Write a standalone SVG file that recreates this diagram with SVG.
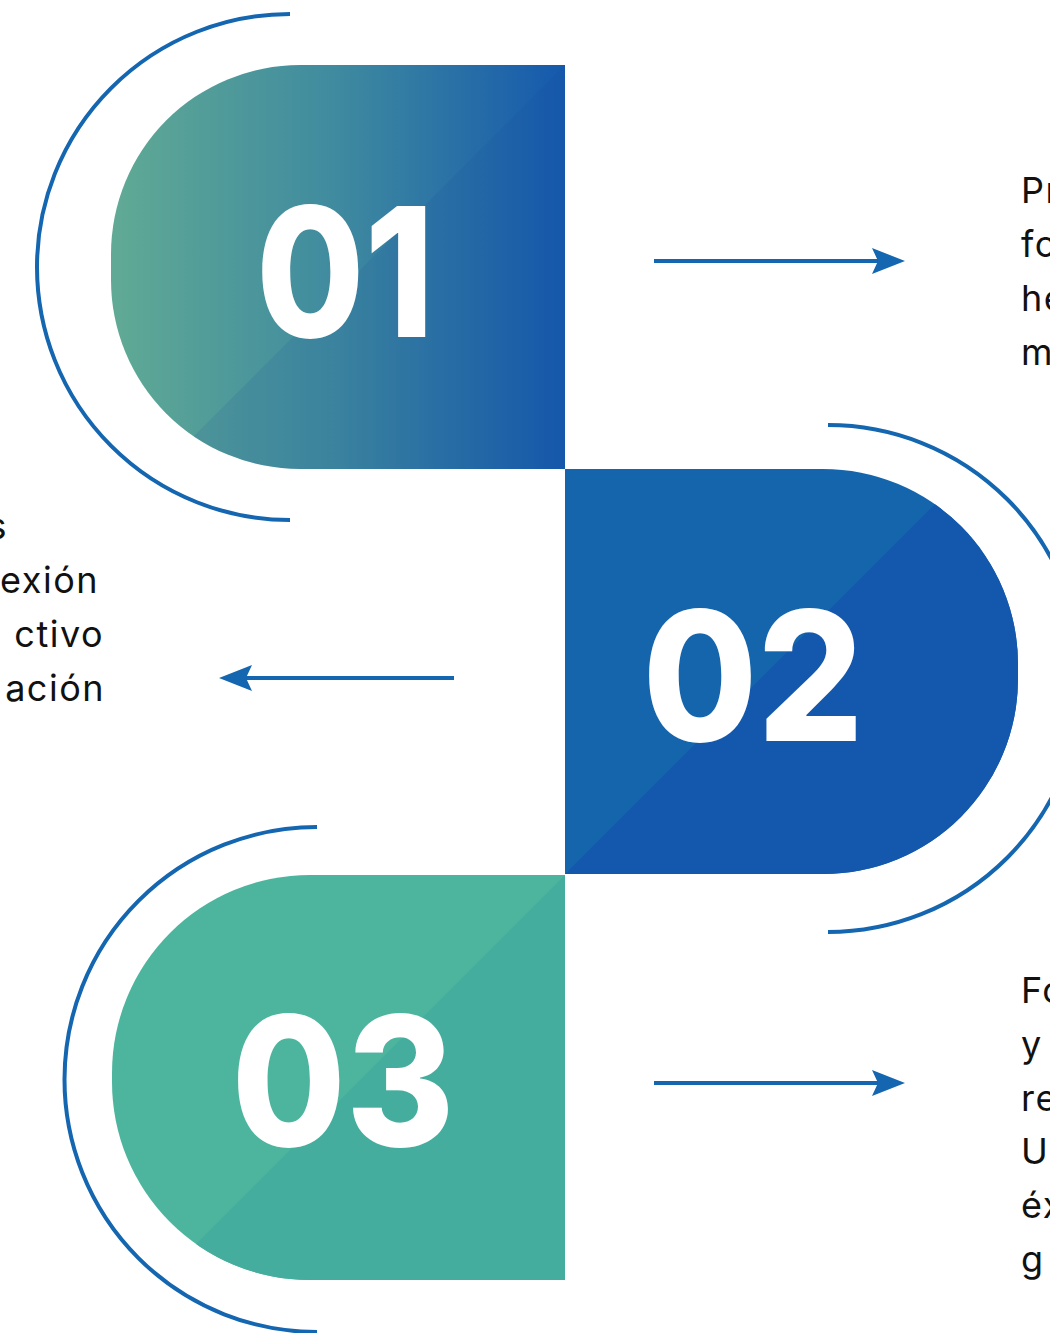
<svg xmlns="http://www.w3.org/2000/svg" width="1050" height="1333" viewBox="0 0 1050 1333">
<style>
.num{font-family:Inter,"Liberation Sans",sans-serif;font-weight:800;font-size:180px;fill:#ffffff}
.txt{font-family:Inter,"Open Sans","Liberation Sans",sans-serif;font-size:36px;letter-spacing:1.5px;fill:#111111}
.arc{fill:none;stroke:#1466b0;stroke-width:4}
.conn{fill:none;stroke:#1466b0;stroke-width:4}
</style>
<defs>
<linearGradient id="g1" x1="111" y1="0" x2="565" y2="0" gradientUnits="userSpaceOnUse">
<stop offset="0" stop-color="#60aa95"/>
<stop offset="0.5" stop-color="#3f8a9f"/>
<stop offset="1" stop-color="#1559ad"/>
</linearGradient>
<path id="s1" d="M565,65 H300 A189,189 0 0 0 111,254 V280 A189,189 0 0 0 300,469 H565 Z"/>
<path id="s2" d="M565,469 H823 A195,195 0 0 1 1018,664 V679 A195,195 0 0 1 823,874 H565 Z"/>
<path id="s3" d="M565,875 H310 A198,198 0 0 0 112,1073 V1082 A198,198 0 0 0 310,1280 H565 Z"/>
<clipPath id="c1"><use href="#s1"/></clipPath>
<clipPath id="c2"><use href="#s2"/></clipPath>
<clipPath id="c3"><use href="#s3"/></clipPath>
<marker id="ah" viewBox="-34 -14 36 28" refX="-25" refY="0" markerWidth="36" markerHeight="28" markerUnits="userSpaceOnUse" orient="auto">
<path d="M0,0 L-33,-13 L-27,0 L-33,13 Z" fill="#1466b0"/>
</marker>
</defs>

<g id="node-01">
<path class="arc" d="M290,14 A253,253 0 0 0 290,520"/>
<use href="#s1" fill="url(#g1)"/>
<polygon points="565,65 565,469 161,469" fill="#1a4a9e" opacity="0.12" clip-path="url(#c1)"/>
<text class="num" x="345" y="337" text-anchor="middle" textLength="178" lengthAdjust="spacingAndGlyphs">01</text>
</g>

<g id="node-02">
<path class="arc" d="M828,425 A253.5,253.5 0 0 1 828,932"/>
<use href="#s2" fill="#1565ad"/>
<polygon points="970,469 1100,469 1100,874 565,874" fill="#1458ad" clip-path="url(#c2)"/>
<text class="num" x="753" y="741" text-anchor="middle" textLength="221" lengthAdjust="spacingAndGlyphs">02</text>
</g>

<g id="node-03">
<path class="arc" d="M317,827 A252.5,252.5 0 0 0 317,1332"/>
<use href="#s3" fill="#4db59e"/>
<polygon points="565,875 565,1280 160,1280" fill="#45ad9d" clip-path="url(#c3)"/>
<text class="num" x="343" y="1146" text-anchor="middle" textLength="223" lengthAdjust="spacingAndGlyphs">03</text>
</g>

<g id="connectors">
<line class="conn" x1="654" y1="261" x2="880" y2="261" marker-end="url(#ah)"/>
<line class="conn" x1="454" y1="678" x2="244" y2="678" marker-end="url(#ah)"/>
<line class="conn" x1="654" y1="1083" x2="880" y2="1083" marker-end="url(#ah)"/>
</g>

<g id="text-01">
<text class="txt" x="1021" y="203">Pr</text>
<text class="txt" x="1021" y="257">fo</text>
<text class="txt" x="1021" y="311">he</text>
<text class="txt" x="1021" y="365">m</text>
</g>
<g id="text-02">
<text class="txt" x="8" y="539" text-anchor="end">s</text>
<text class="txt" x="99" y="593" text-anchor="end">exión</text>
<text class="txt" x="104" y="647" text-anchor="end">ctivo</text>
<text class="txt" x="105" y="701" text-anchor="end">ación</text>
</g>
<g id="text-03">
<text class="txt" x="1021" y="1003">Fo</text>
<text class="txt" x="1021" y="1057">y</text>
<text class="txt" x="1021" y="1111">re</text>
<text class="txt" x="1021" y="1164">U</text>
<text class="txt" x="1021" y="1218">éx</text>
<text class="txt" x="1021" y="1272">g</text>
</g>
</svg>
